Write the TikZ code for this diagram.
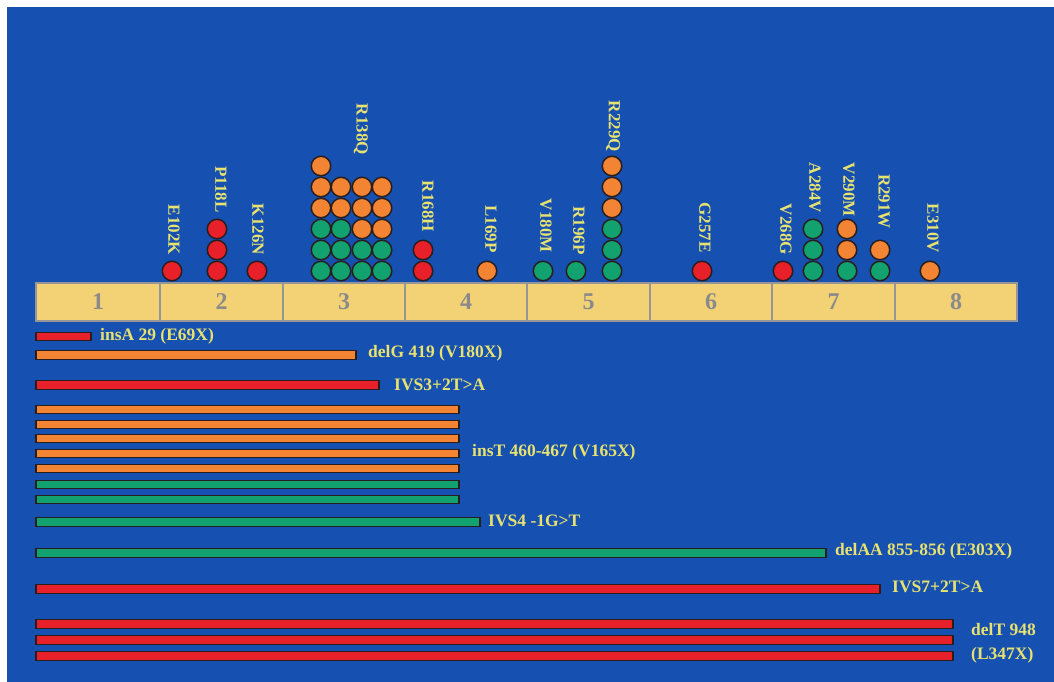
\documentclass[tikz,border=0pt]{standalone}
\usepackage{fontspec}
\setmainfont{Liberation Serif}
\definecolor{bgblue}{RGB}{22,80,176}
\definecolor{exfill}{RGB}{243,210,118}
\definecolor{exline}{RGB}{150,150,150}
\definecolor{numgray}{RGB}{138,138,138}
\definecolor{mR}{RGB}{232,32,42}
\definecolor{mO}{RGB}{242,132,52}
\definecolor{mG}{RGB}{18,162,112}
\definecolor{labyel}{RGB}{232,226,112}
\definecolor{outl}{RGB}{40,30,30}
\begin{document}
\begin{tikzpicture}[x=1pt,y=-1pt,
  dot/.style={circle,draw=outl,line width=1.5pt,minimum size=19.5pt,inner sep=0pt},
  vlab/.style={rotate=-90,anchor=east,inner sep=0pt,text=labyel,font=\bfseries\fontsize{17}{20}\selectfont},
  hlab/.style={anchor=west,inner sep=0pt,text=labyel,font=\bfseries\fontsize{17.5}{20}\selectfont},
  exnum/.style={text=numgray,font=\bfseries\fontsize{24}{26}\selectfont},
  bar/.style={draw=outl,line width=1.2pt}]
\useasboundingbox (0,0) rectangle (1054,682);
\fill[white] (0,0) rectangle (1054,682);
\fill[bgblue] (7,7) rectangle (1054,682);
% exon bar
\draw[exline,fill=exfill,line width=1.5pt] (36,283) rectangle (1017,321);
\foreach \xx in {160,283,405,527,650,772,895}
  \draw[exline,line width=1.5pt] (\xx,283) -- (\xx,321);
\foreach \xm [count=\n] in {98,221.5,344,466,588.5,711,833.5,956}
  \node[exnum] (ex\n) at (\xm,302) {\n};
% mutation dots
\foreach \xx/\cols in {172/{mR}, 217/{mR,mR,mR}, 257/{mR},
  321/{mG,mG,mG,mO,mO,mO}, 341/{mG,mG,mG,mO,mO}, 362/{mG,mG,mO,mO,mO}, 382/{mG,mG,mO,mO,mO},
  423/{mR,mR}, 487/{mO}, 543/{mG}, 576/{mG}, 612/{mG,mG,mG,mO,mO,mO},
  702/{mR}, 783/{mR}, 813/{mG,mG,mG}, 847/{mG,mO,mO}, 880/{mG,mO}, 930/{mO}}
  {\foreach \c [count=\k] in \cols
     \node[dot,fill=\c] (d-\xx-\k) at (\xx,{271-21*(\k-1)}) {};}
% vertical labels
\foreach \xx/\yy/\lab in {174/255/E102K, 221/213/P118L, 258/255/K126N, 361/155/R138Q,
  428/232/R168H, 491/253/L169P, 546/253/V180M, 579/255/R196P, 613/152/R229Q,
  705/253/G257E, 786/255/V268G, 815/213/A284V, 849/217/V290M, 884/229/R291W, 933/253/E310V}
  \node[vlab] (l-\lab) at (\xx,\yy) {\lab};
% truncation bars
\foreach \yy/\xe/\c [count=\n] in {336.5/91/mR, 355/356/mO, 385/379/mR,
  409.5/459/mO, 424.5/459/mO, 438.5/459/mO, 453.5/459/mO, 468.5/459/mO,
  484.5/459/mG, 499.5/459/mG, 522/480/mG, 553/826/mG, 589/880/mR,
  624/953/mR, 640/953/mR, 656/953/mR}
  {\draw[bar,fill=\c] (36,\yy-4.3) rectangle (\xe,\yy+4.3);
   \coordinate (be\n) at (\xe,\yy);}
\node[hlab] (t1) at ([xshift=9pt]be1) {insA 29 (E69X)};
\node[hlab] (t2) at ([xshift=12pt,yshift=2pt]be2) {delG 419 (V180X)};
\node[hlab] (t3) at ([xshift=15pt]be3) {IVS3+2T>A};
\node[hlab] (t4) at ([xshift=13pt,yshift=1pt]be7) {insT 460-467 (V165X)};
\node[hlab] (t5) at ([xshift=8pt,yshift=1pt]be11) {IVS4 -1G>T};
\node[hlab] (t6) at ([xshift=9pt,yshift=2pt]be12) {delAA 855-856 (E303X)};
\node[hlab] (t7) at ([xshift=12pt,yshift=2pt]be13) {IVS7+2T>A};
\node[hlab] (t8) at ([xshift=18pt,yshift=10pt]be15) {delT 948};
\node[hlab] (t9) at ([xshift=18pt,yshift=1pt]be16) {(L347X)};
\end{tikzpicture}
\end{document}
